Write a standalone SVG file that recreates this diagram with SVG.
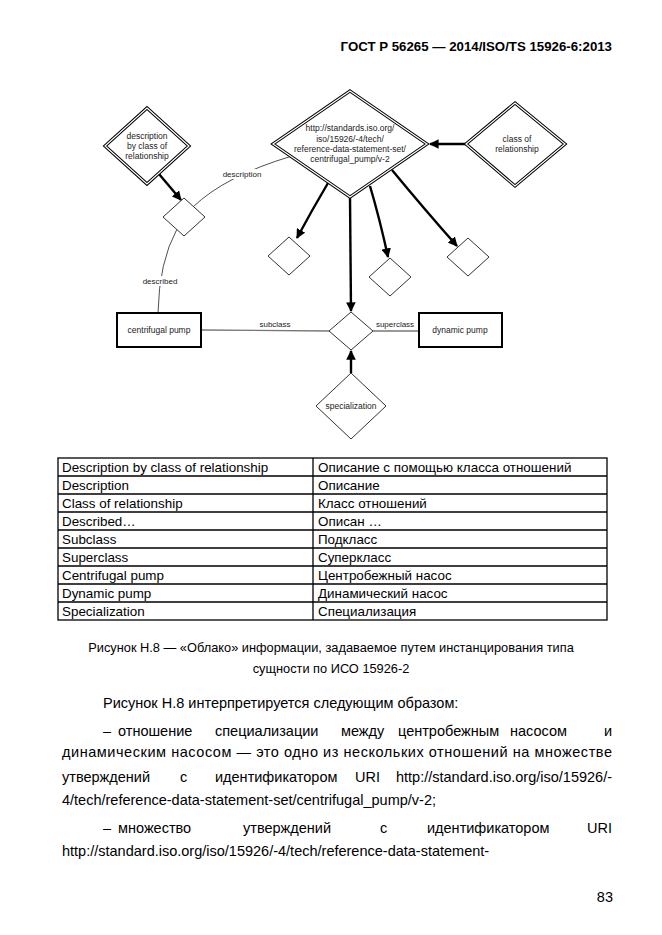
<svg xmlns="http://www.w3.org/2000/svg" width="662" height="935" viewBox="0 0 662 935">
<style>
text{font-family:"Liberation Sans",Arial,sans-serif;fill:#000}
.hdr{font-size:13.25px;font-weight:bold}
.dt{font-size:8.5px;fill:#222;text-anchor:middle}
.lb{font-size:8px;fill:#222;text-anchor:middle}
.tb{font-size:13.4px}
.cap{font-size:12.8px;text-anchor:middle}
.bd{font-size:14.5px}
.dbl-o{fill:#fff;stroke:#000;stroke-width:3.2}
.dbl-i{fill:none;stroke:#fff;stroke-width:1.2}
.sm{fill:#fff;stroke:#333;stroke-width:1}
.box{fill:#fff;stroke:#000;stroke-width:2}
.thick{fill:none;stroke:#000;stroke-width:2.4;marker-end:url(#ah)}
.thin{fill:none;stroke:#222;stroke-width:0.8}
.gray{fill:none;stroke:#777;stroke-width:1.3}
.grid{fill:none;stroke:#000;stroke-width:1.3}
</style>
<defs>
<marker id="ah" viewBox="0 0 10 10" refX="9" refY="5" markerWidth="4" markerHeight="4" orient="auto" markerUnits="strokeWidth">
<path d="M0,0 L10,5 L0,10 z" fill="#000"/>
</marker>
</defs>
<rect width="662" height="935" fill="#fff"/>
<text class="hdr" x="612" y="51" text-anchor="end">ГОСТ Р 56265 — 2014/ISO/TS 15926-6:2013</text>

<g id="connectors">
<path class="thick" d="M159,174 L181,200"/>
<path class="thick" d="M466,144 L430,144"/>
<path class="thick" d="M328,183 Q312,210 297,238"/>
<path class="thick" d="M350,197 L351,311"/>
<path class="thick" d="M370,186 Q380,220 388,257"/>
<path class="thick" d="M392,170 Q425,210 457,246"/>
<path class="thick" d="M351,373 L351,351"/>
<path class="thin" d="M193,207 Q225,176 292,156"/>
<path class="thin" d="M177,229 Q159,262 158,313"/>
<path class="gray" d="M201,330 L330,331"/>
<path class="gray" d="M373,331 L419,331"/>
<rect x="222" y="169" width="40" height="10" fill="#fff"/>
<text class="lb" x="242" y="177">description</text>
<rect x="142" y="276" width="36" height="10" fill="#fff"/>
<text class="lb" x="160" y="284">described</text>
<text class="lb" x="275" y="327">subclass</text>
<text class="lb" x="395" y="327">superclass</text>
</g>

<g id="desc-by-class">
<polygon class="dbl-o" points="147,108 189,146 147,184 105,146"/>
<polygon class="dbl-i" points="147,108 189,146 147,184 105,146"/>
<text class="dt" x="147" y="139">description</text>
<text class="dt" x="147" y="149">by class of</text>
<text class="dt" x="147" y="159">relationship</text>
</g>

<g id="uri">
<polygon class="dbl-o" points="350,91 427,144 350,197 273,144"/>
<polygon class="dbl-i" points="350,91 427,144 350,197 273,144"/>
<text class="dt" x="350" y="131">http://standards.iso.org/</text>
<text class="dt" x="350" y="141.5">iso/15926/-4/tech/</text>
<text class="dt" x="350" y="152">reference-data-statement-set/</text>
<text class="dt" x="350" y="162">centrifugal_pump/v-2</text>
</g>

<g id="class-of-rel">
<polygon class="dbl-o" points="515,103 565,144 515,186 466,144"/>
<polygon class="dbl-i" points="515,103 565,144 515,186 466,144"/>
<text class="dt" x="517" y="142">class of</text>
<text class="dt" x="517" y="152">relationship</text>
</g>

<g id="s1"><polygon class="sm" points="184,198 205,217 184,236 163,217"/></g>
<g id="s2"><polygon class="sm" points="289,237 310,256 289,275 268,256"/></g>
<g id="s3"><polygon class="sm" points="390,258 411,277 390,296 369,277"/></g>
<g id="s4"><polygon class="sm" points="468,238 489,257 468,276 447,257"/></g>
<g id="s5"><polygon class="sm" points="351,312 373,331 351,350 329,331"/></g>

<g id="specialization">
<polygon class="sm" points="351,373 386,406 351,439 316,406"/>
<text class="dt" x="351" y="409">specialization</text>
</g>

<g id="centrifugal-pump">
<rect class="box" x="117" y="313" width="84" height="34"/>
<text class="dt" x="159" y="333">centrifugal pump</text>
</g>
<g id="dynamic-pump">
<rect class="box" x="419" y="313" width="83" height="34"/>
<text class="dt" x="460" y="333">dynamic pump</text>
</g>

<g id="table">
<rect class="grid" x="58" y="458" width="549" height="162"/>
<path class="grid" d="M313,458 V620 M58,476 H607 M58,494 H607 M58,512 H607 M58,530 H607 M58,548 H607 M58,566 H607 M58,584 H607 M58,602 H607"/>
<text class="tb" x="62" y="471.5">Description by class of relationship</text>
<text class="tb" x="62" y="489.5">Description</text>
<text class="tb" x="62" y="507.5">Class of relationship</text>
<text class="tb" x="62" y="525.5">Described…</text>
<text class="tb" x="62" y="543.5">Subclass</text>
<text class="tb" x="62" y="561.5">Superclass</text>
<text class="tb" x="62" y="579.5">Centrifugal pump</text>
<text class="tb" x="62" y="597.5">Dynamic pump</text>
<text class="tb" x="62" y="615.5">Specialization</text>
<text class="tb" x="318" y="471.5">Описание с помощью класса отношений</text>
<text class="tb" x="318" y="489.5">Описание</text>
<text class="tb" x="318" y="507.5">Класс отношений</text>
<text class="tb" x="318" y="525.5">Описан …</text>
<text class="tb" x="318" y="543.5">Подкласс</text>
<text class="tb" x="318" y="561.5">Суперкласс</text>
<text class="tb" x="318" y="579.5">Центробежный насос</text>
<text class="tb" x="318" y="597.5">Динамический насос</text>
<text class="tb" x="318" y="615.5">Специализация</text>
</g>

<text class="cap" x="331" y="652">Рисунок Н.8 — «Облако» информации, задаваемое путем инстанцирования типа</text>
<text class="cap" x="331" y="673">сущности по ИСО 15926-2</text>

<text class="bd" x="103" y="708">Рисунок Н.8 интерпретируется следующим образом:</text>
<text class="bd" x="103" y="736">–</text>
<text class="bd" x="118" y="736">отношение</text>
<text class="bd" x="215" y="736">специализации</text>
<text class="bd" x="341" y="736">между</text>
<text class="bd" x="398" y="736">центробежным</text>
<text class="bd" x="510" y="736">насосом</text>
<text class="bd" x="612" y="736" text-anchor="end">и</text>
<text class="bd" x="62" y="757" textLength="550" lengthAdjust="spacing">динамическим насосом — это одно из нескольких отношений на множестве</text>
<text class="bd" x="62" y="782">утверждений</text>
<text class="bd" x="180" y="782">с</text>
<text class="bd" x="215" y="782">идентификатором</text>
<text class="bd" x="355" y="782">URI</text>
<text class="bd" x="612" y="782" text-anchor="end">http://standard.iso.org/iso/15926/-</text>
<text class="bd" x="62" y="805">4/tech/reference-data-statement-set/centrifugal_pump/v-2;</text>
<text class="bd" x="103" y="833">–</text>
<text class="bd" x="118" y="833">множество</text>
<text class="bd" x="243" y="833">утверждений</text>
<text class="bd" x="380" y="833">с</text>
<text class="bd" x="427" y="833">идентификатором</text>
<text class="bd" x="612" y="833" text-anchor="end">URI</text>
<text class="bd" x="62" y="856">http://standard.iso.org/iso/15926/-4/tech/reference-data-statement-</text>
<text class="bd" x="613" y="902" text-anchor="end">83</text>
</svg>
